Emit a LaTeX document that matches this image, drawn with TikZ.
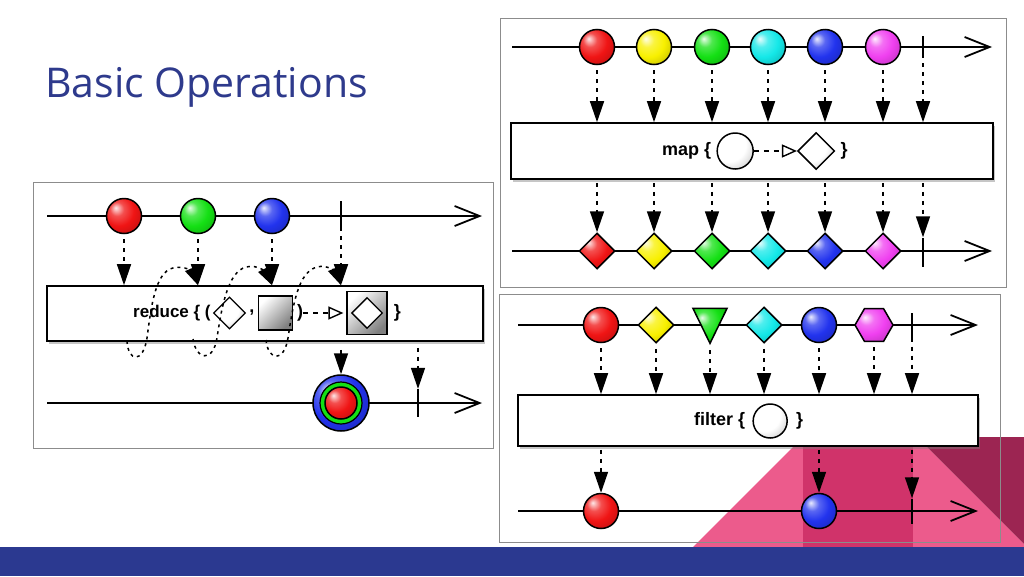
\documentclass[tikz,border=0pt]{standalone}
\usepackage{fontspec}
\setmainfont{Liberation Sans}
\newfontfamily\titlefont{Open Sans}
\usetikzlibrary{arrows.meta, positioning, shapes.geometric, shadows}

\definecolor{slideblue}{HTML}{2B3990}
\definecolor{titleblue}{HTML}{2E3A8C}
\definecolor{pinklight}{HTML}{EC5B8C}
\definecolor{pinkdark}{HTML}{D0336A}
\definecolor{maroon}{HTML}{9C2552}
\definecolor{mred}{HTML}{F01414}
\definecolor{myellow}{HTML}{F8F000}
\definecolor{mgreen}{HTML}{14E014}
\definecolor{mcyan}{HTML}{14E8E8}
\definecolor{mblue}{HTML}{2233EE}
\definecolor{mmagenta}{HTML}{F040F0}
\colorlet{mcol}{white}

% glossy marble shading, lighter than the built-in ball
\pgfdeclareradialshading[mcol]{marbleshade}{\pgfqpoint{-12bp}{12bp}}{%
  color(0bp)=(mcol!10!white); color(10bp)=(mcol!75!white); color(22bp)=(mcol);
  color(38bp)=(mcol!78!black); color(62bp)=(mcol!35!black)}
% white shapes inside the operator boxes
\pgfdeclareradialshading{pearlshade}{\pgfqpoint{-14bp}{14bp}}{%
  color(0bp)=(white); color(24bp)=(white); color(40bp)=(black!22);
  color(55bp)=(black!45); color(70bp)=(black!55)}

\tikzset{
  fillcol/.code={\colorlet{mcol}{#1}},
  panel/.style={draw=black!45, line width=1pt},
  timeline/.style={line width=1.8pt, -{Straight Barb[length=25pt, width=20pt]}},
  marble/.style={circle, draw, line width=1.5pt, minimum size=35pt, inner sep=0pt, shading=marbleshade},
  gem/.style={diamond, draw, line width=1.5pt, minimum size=36pt, inner sep=0pt, shading=marbleshade},
  pearl/.style={draw, line width=1.5pt, inner sep=0pt, shading=pearlshade},
  tick/.style={fill=black, inner sep=0pt, minimum width=2.2pt, minimum height=28pt},
  flow/.style={line width=1.5pt, dash pattern=on 4pt off 5pt, -{Triangle[length=21pt, width=14pt]}, shorten <=5pt},
  loopy/.style={line width=1.5pt, dash pattern=on 3pt off 4pt, -{Triangle[length=18pt, width=13pt]}},
  opbox/.style={draw, line width=1.6pt, fill=white, inner sep=0pt, drop shadow={shadow xshift=1.5pt, shadow yshift=-3pt, opacity=0.45}},
  optext/.style={font=\bfseries\fontsize{18}{20}\selectfont, inner sep=0pt},
  opflow/.style={line width=1.4pt, dash pattern=on 5pt off 5pt, -{Triangle[open, length=15pt, width=13pt]}},
  sq/.style={draw, line width=1.4pt, inner sep=0pt, top color=white, middle color=white, bottom color=black!50, shading angle=45}
}

\begin{document}
\begin{tikzpicture}[x=1pt, y=-1pt]
    \useasboundingbox (0,0) rectangle (1024,576);

    % Slide background
    \fill[pinklight] (693,547) -- (803,437) -- (917,437) -- (1024,544) -- (1024,547) -- cycle;
    \fill[pinkdark] (803,437) rectangle (913,547);
    \fill[maroon] (917,437) -- (1024,437) -- (1024,544) -- cycle;
    \fill[slideblue] (0,547) rectangle (1024,576);
    \node[anchor=base west, inner sep=0pt, text=titleblue, font=\titlefont\fontsize{41}{44}\selectfont] (title) at (45,97) {Basic Operations};

    % Reduce: input stream
    \draw[panel] (33,182) rectangle (493,448);
    \coordinate (rin) at (47,216);
    \coordinate (rout) at (482,216);
    \draw[timeline] (rin) -- (rout);
    \node[marble, fillcol=mred] (r1) at (124,216) {};
    \node[marble, fillcol=mgreen] (r2) at (198,216) {};
    \node[marble, fillcol=mblue] (r3) at (272,216) {};
    \node[tick, minimum height=30pt] (rt) at (341,216) {};

    % Reduce: operator
    \node[opbox, minimum width=436pt, minimum height=55pt] (rbox) at (265,313.5) {};
    \node[optext, font=\bfseries\fontsize{17}{20}\selectfont, anchor=west] (rtxt) at (133,313) {reduce \{ (};
    \node[pearl, diamond, line width=1.3pt, minimum size=32pt, right=2pt of rtxt] (racc1) {};
    \node[optext, right=3pt of racc1] (rcomma) {,};
    \node[sq, minimum size=34pt, right=3pt of rcomma] (rsq) {};
    \node[optext, right=4pt of rsq] (rparen) {)};
    \node[sq, minimum width=40pt, minimum height=43pt, right=43pt of rparen] (rres) {};
    \node[diamond, draw, line width=1.3pt, fill=white, minimum size=31pt, inner sep=0pt] (rresd) at (rres) {};
    \node[optext, right=6pt of rres] (rbrace) {\}};
    \draw[opflow, shorten >=3pt] (rparen) -- (rres);

    % Reduce: arrows
    \draw[flow] (r1) -- (r1 |- rbox.north);
    \draw[flow] (r2) -- (r2 |- rbox.north);
    \draw[flow] (r3) -- (r3 |- rbox.north);
    \draw[flow] (rt) -- (rt |- rbox.north);
    \coordinate (lp1) at (127,341);
    \coordinate (lp2) at (193,339);
    \coordinate (lp3) at (266,340);
    \draw[loopy] (lp1) .. controls (128,362) and (143,364) .. (147,338) .. controls (151,308) and (155,272) .. (173,268) .. controls (186,265) and (193,273) .. (r2 |- rbox.north);
    \draw[loopy] (lp2) .. controls (196,360) and (213,363) .. (217,338) .. controls (222,305) and (228,272) .. (246,267) .. controls (258,264) and (266,273) .. (r3 |- rbox.north);
    \draw[loopy] (lp3) .. controls (268,361) and (284,363) .. (288,338) .. controls (293,305) and (298,272) .. (317,267) .. controls (328,264) and (336,273) .. (rt |- rbox.north);

    % Reduce: output stream
    \coordinate (rin2) at (47,403);
    \coordinate (rout2) at (482,403);
    \draw[timeline] (rin2) -- (rout2);
    \node[marble, fillcol=mblue, minimum size=56pt] (racc) at (341,403) {};
    \node[circle, draw, line width=1.2pt, fill=mgreen, minimum size=42pt, inner sep=0pt] (raccg) at (racc) {};
    \node[marble, fillcol=mred, minimum size=32pt] (raccr) at (racc) {};
    \node[tick] (rt2) at (418,403) {};
    \draw[flow, shorten <=8pt] (racc |- rbox.south) -- (racc);
    \draw[flow, shorten <=6pt] (rt2 |- rbox.south) -- (rt2);

    % Map: input stream
    \draw[panel] (500,18) rectangle (1006,287);
    \coordinate (min) at (512,47);
    \coordinate (mout) at (992,47);
    \draw[timeline] (min) -- (mout);
    \node[marble, fillcol=mred] (m1) at (597,47) {};
    \node[marble, fillcol=myellow] (m2) at (654,47) {};
    \node[marble, fillcol=mgreen] (m3) at (712,47) {};
    \node[marble, fillcol=mcyan] (m4) at (768,47) {};
    \node[marble, fillcol=mblue] (m5) at (825,47) {};
    \node[marble, fillcol=mmagenta] (m6) at (883,47) {};
    \node[tick, minimum height=22pt] (mt) at (923,47) {};

    % Map: operator
    \node[opbox, minimum width=482pt, minimum height=56pt] (mbox) at (752,151) {};
    \node[optext, anchor=west] (mtxt) at (662,151) {map \{};
    \node[pearl, circle, minimum size=36pt, right=5pt of mtxt] (mcirc) {};
    \node[pearl, diamond, minimum size=37pt, right=43pt of mcirc] (mgem) {};
    \node[optext, right=5pt of mgem] (mbrace) {\}};
    \draw[opflow] (mcirc) -- (mgem);

    % Map: output stream
    \coordinate (min2) at (512,251);
    \coordinate (mout2) at (992,251);
    \draw[timeline] (min2) -- (mout2);
    \node[gem, fillcol=mred] (d1) at (597,251) {};
    \node[gem, fillcol=myellow] (d2) at (654,251) {};
    \node[gem, fillcol=mgreen] (d3) at (712,251) {};
    \node[gem, fillcol=mcyan] (d4) at (768,251) {};
    \node[gem, fillcol=mblue] (d5) at (825,251) {};
    \node[gem, fillcol=mmagenta] (d6) at (883,251) {};
    \node[tick, minimum height=29pt] (mt2) at (923,252) {};

    % Map: arrows
    \draw[flow] (m1) -- (m1 |- mbox.north);
    \draw[flow] (m2) -- (m2 |- mbox.north);
    \draw[flow] (m3) -- (m3 |- mbox.north);
    \draw[flow] (m4) -- (m4 |- mbox.north);
    \draw[flow] (m5) -- (m5 |- mbox.north);
    \draw[flow] (m6) -- (m6 |- mbox.north);
    \draw[flow] (mt) -- (mt |- mbox.north);
    \draw[flow, shorten <=3pt] (d1 |- mbox.south) -- (d1);
    \draw[flow, shorten <=3pt] (d2 |- mbox.south) -- (d2);
    \draw[flow, shorten <=3pt] (d3 |- mbox.south) -- (d3);
    \draw[flow, shorten <=3pt] (d4 |- mbox.south) -- (d4);
    \draw[flow, shorten <=3pt] (d5 |- mbox.south) -- (d5);
    \draw[flow, shorten <=3pt] (d6 |- mbox.south) -- (d6);
    \draw[flow, shorten <=3pt] (mt2 |- mbox.south) -- (mt2);

    % Filter: input stream
    \draw[panel] (499,294) rectangle (1000,542);
    \coordinate (fin) at (518,325);
    \coordinate (fout) at (978,325);
    \draw[timeline] (fin) -- (fout);
    \node[marble, fillcol=mred] (f1) at (601,325) {};
    \node[gem, fillcol=myellow] (f2) at (656,325) {};
    \node[isosceles triangle, isosceles triangle apex angle=52, shape border rotate=-90, draw, line width=1.5pt, inner sep=0pt, minimum height=35pt, shading=marbleshade, fillcol=mgreen, yshift=6pt] (f3) at (710,325) {};
    \node[gem, fillcol=mcyan] (f4) at (764,325) {};
    \node[marble, fillcol=mblue] (f5) at (819,325) {};
    \node[regular polygon, regular polygon sides=6, draw, line width=1.5pt, inner sep=0pt, minimum size=38pt, shading=marbleshade, fillcol=mmagenta] (f6) at (874,325) {};
    \node[tick, minimum height=29pt] (ft) at (912,327) {};

    % Filter: operator
    \node[opbox, minimum width=460pt, minimum height=51pt] (fbox) at (748,420.5) {};
    \node[optext, anchor=west] (ftxt) at (694,421) {filter \{};
    \node[pearl, circle, minimum size=34pt, right=7pt of ftxt] (fcirc) {};
    \node[optext, right=8pt of fcirc] (fbrace) {\}};

    % Filter: output stream
    \coordinate (fin2) at (518,511);
    \coordinate (fout2) at (978,511);
    \draw[timeline] (fin2) -- (fout2);
    \node[marble, fillcol=mred] (o1) at (601,511) {};
    \node[marble, fillcol=mblue] (o2) at (819,511) {};
    \node[tick, minimum height=25pt] (ft2) at (912,511) {};

    % Filter: arrows
    \draw[flow] (f1) -- (f1 |- fbox.north);
    \draw[flow] (f2) -- (f2 |- fbox.north);
    \draw[flow] (f3) -- (f3 |- fbox.north);
    \draw[flow] (f4) -- (f4 |- fbox.north);
    \draw[flow] (f5) -- (f5 |- fbox.north);
    \draw[flow] (f6) -- (f6 |- fbox.north);
    \draw[flow] (ft) -- (ft |- fbox.north);
    \draw[flow, shorten <=3pt] (o1 |- fbox.south) -- (o1);
    \draw[flow, shorten <=3pt] (o2 |- fbox.south) -- (o2);
    \draw[flow, shorten <=3pt] (ft2 |- fbox.south) -- (ft2);
\end{tikzpicture}
\end{document}
